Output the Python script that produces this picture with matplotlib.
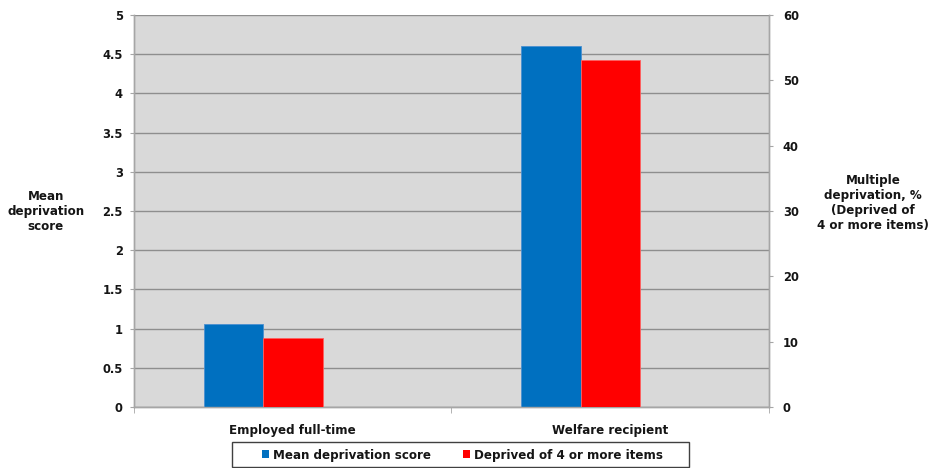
import numpy as np
import matplotlib.pyplot as plt
from matplotlib.patches import Patch, Rectangle

# values
groups = ['Employed full-time', 'Welfare recipient']
mean_score = [1.06, 4.61]          # left axis
deprived_pct = [10.6, 53.1]        # right axis, %

left_ticks = [0, 0.5, 1, 1.5, 2, 2.5, 3, 3.5, 4, 4.5, 5]
left_labels = ['0', '0.5', '1', '1.5', '2', '2.5', '3', '3.5', '4', '4.5', '5']
right_ticks = [0, 10, 20, 30, 40, 50, 60]

blue = '#0070C0'
red = '#FF0000'
grid_col = '#8E8E8E'
axis_col = '#A6A6A6'
txt_col = '#151515'

plt.rcParams['font.family'] = 'DejaVu Sans'
plt.rcParams['font.weight'] = 'bold'

fig = plt.figure(figsize=(9.29, 4.68), dpi=100)
ax = fig.add_axes([0.1442, 0.1303, 0.6836, 0.8377])
ax2 = ax.twinx()

x = np.arange(len(groups))
w = 0.187

ax.set_facecolor('#D9D9D9')
ax.bar(x - 0.28, mean_score, width=w, align='edge', color=blue,
       edgecolor='#4A8FD0', linewidth=0.6, zorder=3)
ax2.bar(x - 0.093, deprived_pct, width=w, align='edge', color=red,
        edgecolor='#FF6060', linewidth=0.6, zorder=3)

ax.set_xlim(-0.5, 1.5)
ax.set_ylim(0, 5)
ax2.set_ylim(0, 60)

ax.set_yticks(left_ticks)
ax.set_yticklabels(left_labels)
ax2.set_yticks(right_ticks)

ax.yaxis.grid(True, color=grid_col, linewidth=1.0, zorder=0)
ax.set_axisbelow(True)

ax.set_xticks(x)
ax.set_xticklabels(groups, fontsize=8.6, fontweight='bold', color=txt_col)
ax.set_xticks([-0.5, 0.5, 1.5], minor=True)
ax.tick_params(axis='x', which='major', length=0, pad=12.5)
ax.tick_params(axis='x', which='minor', length=4, color=axis_col, direction='out')
ax.tick_params(axis='y', length=3, color=axis_col, labelsize=8.3,
               labelcolor=txt_col, pad=5)
ax2.tick_params(axis='y', length=3, color=axis_col, labelsize=8.3,
                labelcolor=txt_col, pad=7)

for a in (ax, ax2):
    a.spines['top'].set_visible(False)
    for side in ('left', 'right', 'bottom'):
        a.spines[side].set_color(axis_col)
        a.spines[side].set_linewidth(1.0)

fig.text(46 / 929, 1 - 212 / 468, 'Mean\ndeprivation\nscore', ha='center',
         va='center', fontsize=8.6, fontweight='bold', color=txt_col,
         linespacing=1.2)
fig.text(873 / 929, 1 - 203 / 468,
         'Multiple\ndeprivation, %\n(Deprived of\n4 or more items)',
         ha='center', va='center', fontsize=8.6, fontweight='bold',
         color=txt_col, linespacing=1.2)

# legend without frame, box drawn separately to match the wide frame
handles = [Patch(facecolor=blue, label='Mean deprivation score'),
           Patch(facecolor=red, label='Deprived of 4 or more items')]
leg = fig.legend(handles=handles, loc='center', bbox_to_anchor=(462.5 / 929, 1 - 455 / 468),
                 ncol=2, frameon=False, fontsize=8.6,
                 handlelength=0.6, handleheight=0.6, handletextpad=0.35,
                 columnspacing=2.6, borderpad=0, borderaxespad=0)
for t in leg.get_texts():
    t.set_fontweight('bold')
    t.set_color(txt_col)

fig.patches.append(Rectangle((232 / 929, 1 - 467 / 468), (689 - 232) / 929, 25 / 468,
                             transform=fig.transFigure, fill=False,
                             edgecolor='#404040', linewidth=1.0))

fig.savefig('out.png', dpi=100, facecolor='white')
